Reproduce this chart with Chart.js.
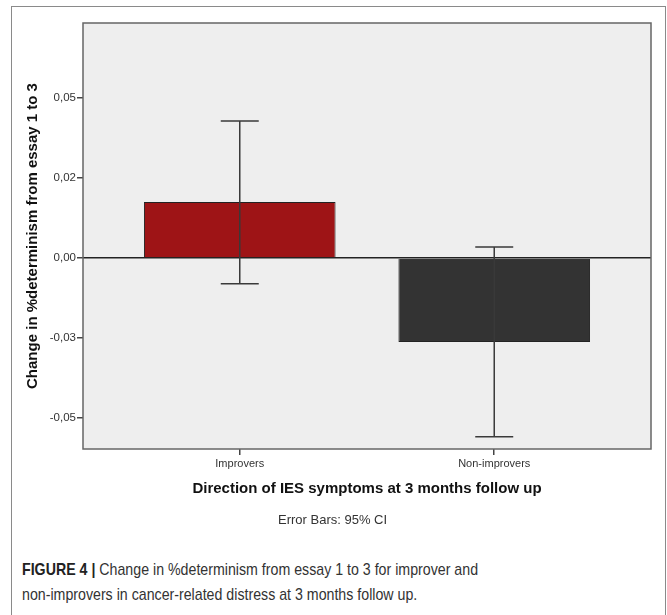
<!DOCTYPE html>
<html lang="en">
<head>
    <meta charset="UTF-8">
    <title>Change in %determinism</title>
    <script src="https://cdn.jsdelivr.net/npm/chart.js"></script>
    <style>
        body {
            margin: 0;
            background: #ffffff;
            font-family: "Liberation Sans", Arial, sans-serif;
        }
        #frame {
            position: absolute;
            left: 11px;
            top: 6px;
            width: 653px;
            height: 640px;
            border: 1px solid #8a8a8a;
        }
        #chartContainer {
            position: absolute;
            left: 0;
            top: 0;
            width: 667px;
            height: 540px;
        }
        #errorNote {
            position: absolute;
            left: 278px;
            top: 512px;
            font-size: 13px;
            color: #333;
            white-space: nowrap;
        }
        #caption {
            position: absolute;
            left: 22px;
            top: 557px;
            font-size: 17px;
            line-height: 25px;
            color: #333;
            white-space: nowrap;
            transform: scaleX(0.835);
            transform-origin: left top;
        }
        #caption b { color: #222; }
    </style>
</head>
<body>
    <div id="frame"></div>
    <div id="chartContainer">
        <canvas id="chart"></canvas>
    </div>
    <div id="errorNote">Error Bars: 95% CI</div>
    <div id="caption"><b>FIGURE 4 |</b> Change in %determinism from essay 1 to 3 for improver and<br>non-improvers in cancer-related distress at 3 months follow up.</div>

    <script>
        // data
        var categories = ['Improvers', 'Non-improvers'];
        var means = [0.0175, -0.0263];
        var ciLow = [-0.0081, -0.0559];
        var ciHigh = [0.0428, 0.0034];
        var barColors = ['#9e1416', '#333333'];

        var yTickValues = [0.05, 0.025, 0, -0.025, -0.05];
        var yTickLabels = ['0,05', '0,02', '0,00', '-0,03', '-0,05'];

        var points = means.map(function(v, i) { return {x: i, y: v}; });

        // gray plot background and frame
        var plotFrame = {
            id: 'plotFrame',
            beforeDraw: function(chart) {
                var a = chart.chartArea, ctx = chart.ctx;
                ctx.save();
                ctx.fillStyle = '#eeeeee';
                ctx.fillRect(a.left, a.top, a.right - a.left, a.bottom - a.top);
                ctx.restore();
            },
            afterDraw: function(chart) {
                var a = chart.chartArea, ctx = chart.ctx;
                ctx.save();
                ctx.strokeStyle = '#666';
                ctx.lineWidth = 1.5;
                ctx.strokeRect(a.left, a.top, a.right - a.left, a.bottom - a.top);
                ctx.restore();
            }
        };

        // 95% CI whiskers
        var errorBars = {
            id: 'errorBars',
            afterDatasetsDraw: function(chart) {
                var ctx = chart.ctx;
                var xs = chart.scales.x, ys = chart.scales.y;
                ctx.save();
                ctx.strokeStyle = '#3a3a3a';
                ctx.lineWidth = 1.5;
                for (var i = 0; i < categories.length; i++) {
                    var x = xs.getPixelForValue(i);
                    var top = ys.getPixelForValue(ciHigh[i]);
                    var bot = ys.getPixelForValue(ciLow[i]);
                    var cap = 19;
                    ctx.beginPath();
                    ctx.moveTo(x, top); ctx.lineTo(x, bot);
                    ctx.moveTo(x - cap, top); ctx.lineTo(x + cap, top);
                    ctx.moveTo(x - cap, bot); ctx.lineTo(x + cap, bot);
                    ctx.stroke();
                }
                ctx.restore();
            }
        };

        var ctx = document.getElementById('chart').getContext('2d');
        var chart = new Chart(ctx, {
            type: 'bar',
            data: {
                datasets: [{
                    data: points,
                    backgroundColor: barColors,
                    borderColor: '#222',
                    borderWidth: 1,
                    barPercentage: 0.753,
                    categoryPercentage: 1
                }]
            },
            options: {
                responsive: true,
                maintainAspectRatio: false,
                animation: false,
                layout: { padding: { left: 20, top: 23, right: 16, bottom: 42 } },
                plugins: {
                    legend: { display: false },
                    tooltip: { enabled: false }
                },
                scales: {
                    x: {
                        type: 'linear',
                        offset: false,
                        min: -0.616,
                        max: 1.616,
                        afterBuildTicks: function(scale) {
                            scale.ticks = categories.map(function(c, i) { return {value: i}; });
                        },
                        afterFit: function(scale) { scale.height = 49; },
                        grid: {
                            offset: false,
                            drawOnChartArea: false,
                            tickLength: 6,
                            tickColor: '#444',
                            lineWidth: 1.5
                        },
                        border: { display: false },
                        ticks: {
                            padding: 2,
                            color: '#333',
                            font: { family: 'Liberation Sans', size: 11 },
                            callback: function(v) { return categories[v]; }
                        },
                        title: {
                            display: true,
                            text: 'Direction of IES symptoms at 3 months follow up',
                            color: '#111',
                            font: { family: 'Liberation Sans', size: 15, weight: 'bold' },
                            padding: { top: 0, bottom: 0 }
                        }
                    },
                    y: {
                        min: -0.0597,
                        max: 0.0734,
                        afterBuildTicks: function(scale) {
                            scale.ticks = yTickValues.map(function(v) { return {value: v}; });
                        },
                        afterFit: function(scale) { scale.width = 63; },
                        grid: {
                            drawOnChartArea: true,
                            color: function(c) { return c.tick && c.tick.value === 0 ? '#222' : 'rgba(0,0,0,0)'; },
                            lineWidth: 1.5,
                            tickLength: 6,
                            tickColor: '#444'
                        },
                        border: { display: false },
                        ticks: {
                            padding: 1,
                            color: '#333',
                            font: { family: 'Liberation Sans', size: 11.5 },
                            callback: function(v) {
                                var k = yTickValues.indexOf(v);
                                return k >= 0 ? yTickLabels[k] : '';
                            }
                        },
                        title: {
                            display: true,
                            text: 'Change in %determinism from essay 1 to 3',
                            color: '#111',
                            font: { family: 'Liberation Sans', size: 15, weight: 'bold' },
                            padding: { top: 4, bottom: 0 }
                        }
                    }
                }
            },
            plugins: [plotFrame, errorBars]
        });
    </script>
</body>
</html>
